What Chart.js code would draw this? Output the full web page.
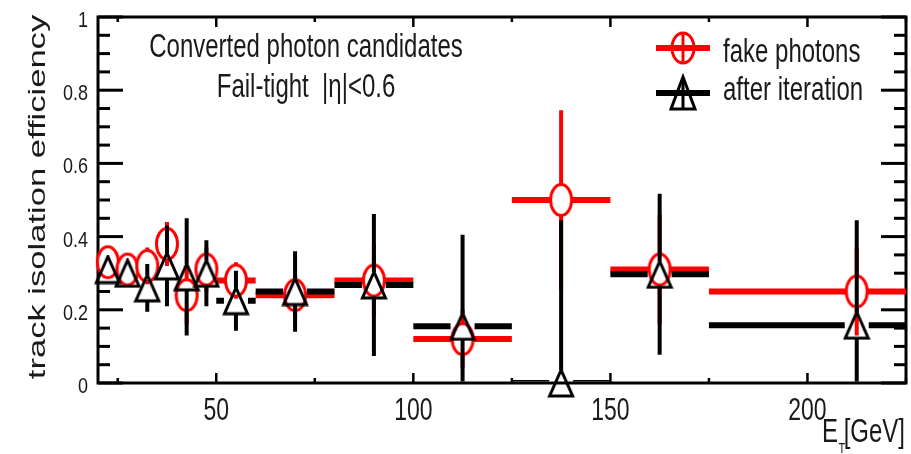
<!DOCTYPE html>
<html>
<head>
  <title>Track isolation efficiency</title>
  <script src="https://cdn.jsdelivr.net/npm/chart.js"></script>
  <style>
    body { margin: 0; background: #fff; }
  </style>
</head>
<body>
  <canvas id="effChart" width="911" height="454"></canvas>

  <script>
    // E_T bins [GeV]
    const binLow    = [20, 25, 30, 35, 40, 45, 50, 60, 80, 100, 125, 150, 175];
    const binHigh   = [25, 30, 35, 40, 45, 50, 60, 80, 100, 125, 150, 175, 250];
    const binCenter = [22.5, 27.5, 32.5, 37.5, 42.5, 47.5, 55, 70, 90, 112.5, 137.5, 162.5, 212.5];

    // fake photons
    const fakeEff = [0.33, 0.31, 0.32, 0.38, 0.24, 0.31, 0.28, 0.24, 0.28, 0.12, 0.50, 0.31, 0.25];
    const fakeErr = [0.04, 0.04, 0.05, 0.06, 0.08, 0.06, 0.05, 0.06, 0.10, 0.08, 0.245, 0.15, 0.12];

    // after iteration
    const iterEff = [0.31, 0.30, 0.26, 0.32, 0.29, 0.30, 0.225, 0.25, 0.268, 0.155, 0.0, 0.297, 0.158];
    const iterErr = [0.03, 0.03, 0.065, 0.11, 0.16, 0.09, 0.082, 0.11, 0.194, 0.25, 0.445, 0.22, 0.287];

    const xTickLabels = [50, 100, 150, 200];
    const yTickLabels = [0, 0.2, 0.4, 0.6, 0.8, 1];
    const xMinorTicks = [25, 75, 125, 175, 225];

    const FONT = '"Liberation Sans", Arial, Helvetica, sans-serif';

    // open ellipse marker (white inside)
    function circleMarker() {
      const c = document.createElement('canvas');
      c.width = 26; c.height = 36;
      const g = c.getContext('2d');
      g.beginPath();
      g.ellipse(13, 18, 10.5, 15.5, 0, 0, Math.PI * 2);
      g.fillStyle = '#fff';
      g.fill();
      g.lineWidth = 3;
      g.strokeStyle = '#ff0000';
      g.stroke();
      return c;
    }

    // open triangle marker (hollow)
    function triangleMarker() {
      const c = document.createElement('canvas');
      c.width = 28; c.height = 30;
      const g = c.getContext('2d');
      g.beginPath();
      g.moveTo(14, 2);
      g.lineTo(2.5, 28);
      g.lineTo(25.5, 28);
      g.closePath();
      g.lineWidth = 3;
      g.lineJoin = 'miter';
      g.strokeStyle = '#000';
      g.stroke();
      return c;
    }

    function line(ctx, x0, y0, x1, y1) {
      ctx.beginPath();
      ctx.moveTo(x0, y0);
      ctx.lineTo(x1, y1);
      ctx.stroke();
    }

    function stretchText(ctx, str, x, y, size, sy, align) {
      ctx.save();
      ctx.translate(x, y);
      ctx.scale(1, sy);
      ctx.font = size + 'px ' + FONT;
      ctx.textAlign = align || 'left';
      ctx.textBaseline = 'alphabetic';
      ctx.fillStyle = '#1a1a1a';
      ctx.fillText(str, 0, 0);
      ctx.restore();
    }

    // bin-width bars and error bars, leaving a gap where the marker sits
    const errorBars = {
      id: 'errorBars',
      beforeDatasetDraw(chart, args) {
        const ds = chart.data.datasets[args.index];
        const xs = chart.scales.x, ys = chart.scales.y, ctx = chart.ctx, a = chart.chartArea;
        const vals = ds.vals, errs = ds.errs, hw = ds.gapW, hh = ds.gapH;
        ctx.save();
        ctx.beginPath();
        ctx.rect(a.left, a.top, a.right - a.left, a.bottom - a.top - 1.5);
        ctx.clip();
        ctx.strokeStyle = ds.barColor;
        ctx.lineCap = 'butt';
        for (let i = 0; i < vals.length; i++) {
          const px = xs.getPixelForValue(binCenter[i]);
          const py = ys.getPixelForValue(vals[i]);
          const x0 = xs.getPixelForValue(binLow[i]);
          const x1 = xs.getPixelForValue(binHigh[i]);
          ctx.lineWidth = 6;
          if (px - hw > x0) line(ctx, x0, py, px - hw, py);
          if (px + hw < x1) line(ctx, px + hw, py, x1, py);
          const yTop = ys.getPixelForValue(vals[i] + errs[i]);
          const yBot = ys.getPixelForValue(vals[i] - errs[i]);
          ctx.lineWidth = 4;
          if (yTop < py - hh) line(ctx, px, yTop, px, py - hh);
          if (yBot > py + hh) line(ctx, px, py + hh, px, yBot);
        }
        ctx.restore();
      }
    };

    // frame with inward ticks on all four sides
    const frame = {
      id: 'frame',
      beforeDatasetsDraw(chart) {
        const xs = chart.scales.x, ys = chart.scales.y, ctx = chart.ctx, a = chart.chartArea;
        ctx.save();
        ctx.strokeStyle = '#000';
        ctx.lineWidth = 3;
        for (let v = 0; v <= 1.0001; v += 0.05) {
          const y = ys.getPixelForValue(v);
          const major = Math.abs(v * 5 - Math.round(v * 5)) < 1e-6;
          const len = major ? 25 : 12;
          line(ctx, a.left, y, a.left + len, y);
          line(ctx, a.right, y, a.right - len, y);
        }
        ctx.lineWidth = 2.5;
        xTickLabels.forEach(v => {
          const x = xs.getPixelForValue(v);
          line(ctx, x, a.bottom, x, a.bottom - 10);
          line(ctx, x, a.top, x, a.top + 10);
        });
        xMinorTicks.forEach(v => {
          const x = xs.getPixelForValue(v);
          line(ctx, x, a.bottom, x, a.bottom - 5);
          line(ctx, x, a.top, x, a.top + 5);
        });
        ctx.lineWidth = 3;
        ctx.strokeRect(a.left, a.top, a.right - a.left, a.bottom - a.top);
        ctx.restore();
      },
      afterDraw(chart) {
        const xs = chart.scales.x, ys = chart.scales.y, ctx = chart.ctx, a = chart.chartArea;

        // tick labels
        yTickLabels.forEach(v => {
          stretchText(ctx, String(v), a.left - 10, ys.getPixelForValue(v) + 10, 18, 1.22, 'right');
        });
        xTickLabels.forEach(v => {
          stretchText(ctx, String(v), xs.getPixelForValue(v), 420, 23, 1.38, 'center');
        });

        // axis titles
        stretchText(ctx, '[GeV]', 905, 441.5, 24, 1.4, 'right');
        stretchText(ctx, 'T', 838.5, 453, 11, 1.4, 'left');
        stretchText(ctx, 'E', 838, 441.5, 24, 1.4, 'right');

        ctx.save();
        ctx.translate(45, 197);
        ctx.scale(1, 1.44);
        ctx.rotate(-Math.PI / 2);
        ctx.font = '24px ' + FONT;
        ctx.textAlign = 'center';
        ctx.textBaseline = 'alphabetic';
        ctx.fillStyle = '#1a1a1a';
        ctx.fillText('track isolation efficiency', 0, 0);
        ctx.restore();

        // selection text
        stretchText(ctx, 'Converted photon candidates', 306, 57, 24, 1.35, 'center');
        stretchText(ctx, 'Fail-tight  |\u03b7|<0.6', 306, 97, 24, 1.35, 'center');

        // legend
        ctx.save();
        ctx.lineCap = 'butt';
        ctx.strokeStyle = '#ff0000';
        ctx.lineWidth = 6;
        line(ctx, 656, 48, 710, 48);
        ctx.lineWidth = 3;
        line(ctx, 683, 32, 683, 64);
        ctx.beginPath();
        ctx.ellipse(683, 48, 11, 15, 0, 0, Math.PI * 2);
        ctx.stroke();

        ctx.strokeStyle = '#000';
        ctx.lineWidth = 6;
        line(ctx, 656, 93, 710, 93);
        ctx.lineWidth = 3;
        line(ctx, 683, 78, 683, 109);
        ctx.beginPath();
        ctx.moveTo(683, 77);
        ctx.lineTo(671, 109);
        ctx.lineTo(695, 109);
        ctx.closePath();
        ctx.stroke();
        ctx.restore();

        stretchText(ctx, 'fake photons', 723, 61.5, 24, 1.35, 'left');
        stretchText(ctx, 'after iteration', 723, 100, 24, 1.35, 'left');
      }
    };

    const ctx = document.getElementById('effChart').getContext('2d');
    new Chart(ctx, {
      type: 'scatter',
      data: {
        datasets: [
          {
            label: 'after iteration',
            data: binCenter.map((x, i) => ({ x: x, y: iterEff[i] })),
            vals: iterEff, errs: iterErr, barColor: '#000', gapW: 12, gapH: 13,
            pointStyle: triangleMarker(),
            pointRadius: 12,
            clip: false
          },
          {
            label: 'fake photons',
            data: binCenter.map((x, i) => ({ x: x, y: fakeEff[i] })),
            vals: fakeEff, errs: fakeErr, barColor: '#ff0000', gapW: 10.5, gapH: 15.5,
            pointStyle: circleMarker(),
            pointRadius: 12,
            clip: false
          }
        ]
      },
      options: {
        responsive: false,
        animation: false,
        layout: { autoPadding: false, padding: { left: 98, right: 5, top: 17, bottom: 71 } },
        scales: {
          x: { type: 'linear', min: 20, max: 225, display: false },
          y: { type: 'linear', min: 0, max: 1, display: false }
        },
        plugins: {
          legend: { display: false },
          tooltip: { enabled: false }
        }
      },
      plugins: [frame, errorBars]
    });
  </script>
</body>
</html>
